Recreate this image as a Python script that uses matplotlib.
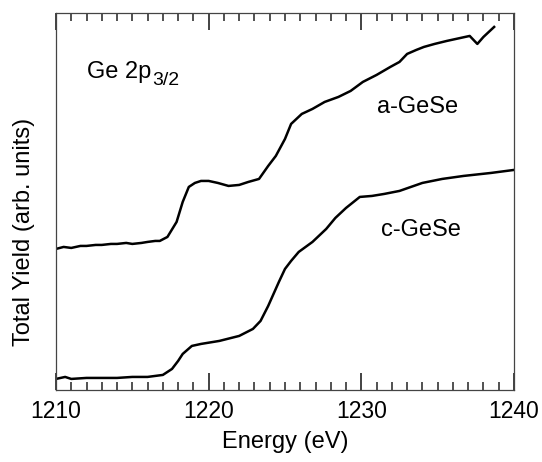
import matplotlib
matplotlib.use("Agg")
import matplotlib.pyplot as plt
from matplotlib.ticker import MultipleLocator

plt.rcParams['font.family'] = ['Liberation Sans', 'DejaVu Sans']

# a-GeSe (upper curve), energies in eV, yield in arb. units
a_energy = [1210.0, 1210.5, 1211.0, 1211.6, 1212.0, 1212.6, 1213.0, 1213.6, 1214.0,
            1214.6, 1215.0, 1215.6, 1216.0, 1216.5, 1216.8, 1217.3, 1217.9, 1218.3,
            1218.7, 1219.1, 1219.5, 1220.0, 1220.6, 1221.3, 1222.0, 1222.6, 1223.3,
            1223.9, 1224.4, 1225.0, 1225.4, 1226.1, 1226.8, 1227.6, 1228.5, 1229.3,
            1230.1, 1231.0, 1231.9, 1232.5, 1233.0, 1233.6, 1234.1, 1234.8, 1235.6,
            1236.5, 1237.1, 1237.6, 1238.0, 1238.7]
a_yield = [141, 143, 142, 144, 144, 145, 145, 146, 146,
           147, 146, 147, 148, 149, 149, 153, 168, 188,
           203, 207, 209, 209, 207, 204, 205, 208, 211,
           224, 234, 251, 266, 276, 281, 288, 293, 299,
           308, 315, 323, 328, 336, 340, 343, 346, 349,
           352, 354, 346, 353, 363]

# c-GeSe (lower curve)
c_energy = [1210.0, 1210.6, 1211.0, 1212.0, 1213.0, 1214.0, 1215.0, 1216.0, 1217.0,
            1217.6, 1218.0, 1218.3, 1218.9, 1219.5, 1220.7, 1222.0, 1222.9, 1223.4,
            1223.9, 1224.6, 1225.0, 1225.4, 1225.9, 1226.8, 1227.7, 1228.3, 1229.0,
            1229.9, 1230.7, 1231.5, 1232.5, 1234.0, 1235.3, 1236.7, 1238.5, 1240.0]
c_yield = [11, 13, 11, 12, 12, 12, 13, 13, 15,
           21, 29, 36, 44, 46, 49, 54, 61, 69,
           84, 108, 121, 129, 138, 148, 161, 172, 182,
           193, 194, 196, 199, 207, 211, 214, 217, 220]

xticks = [1210, 1220, 1230, 1240]

fig = plt.figure(figsize=(5.42, 4.62), dpi=100)
ax = fig.add_axes([0.1033, 0.156, 0.845, 0.816])

ax.plot(a_energy, a_yield, color='black', lw=1.8)
ax.plot(c_energy, c_yield, color='black', lw=1.8)

ax.set_xlim(1210, 1240)
ax.set_ylim(0, 377)
ax.set_xticks(xticks)
ax.xaxis.set_minor_locator(MultipleLocator(1))
ax.set_yticks([])
ax.tick_params(axis='x', which='both', direction='in', bottom=True, top=True,
               colors='#222222', labelsize=16.5)
ax.tick_params(axis='x', which='major', length=12, width=1.2, pad=7, labelcolor='black')
ax.tick_params(axis='x', which='minor', length=5.5, width=1.1)
for s in ax.spines.values():
    s.set_color('#444444')
    s.set_linewidth(0.9)

# label with a large subscript, as in the original figure
ax.text(1212.0, 312, 'Ge 2p', fontsize=17, ha='left', va='baseline')
ax.text(1216.3, 305, '3/2', fontsize=14, ha='left', va='baseline')
ax.text(1233.7, 283, 'a-GeSe', fontsize=17, ha='center', va='center')
ax.text(1233.9, 160, 'c-GeSe', fontsize=17, ha='center', va='center')

ax.set_xlabel('Energy (eV)', fontsize=17, labelpad=6)
ax.set_ylabel('Total Yield (arb. units)', fontsize=17)
ax.yaxis.set_label_coords(-0.045, 0.42)

fig.savefig('out.png', dpi=100)
